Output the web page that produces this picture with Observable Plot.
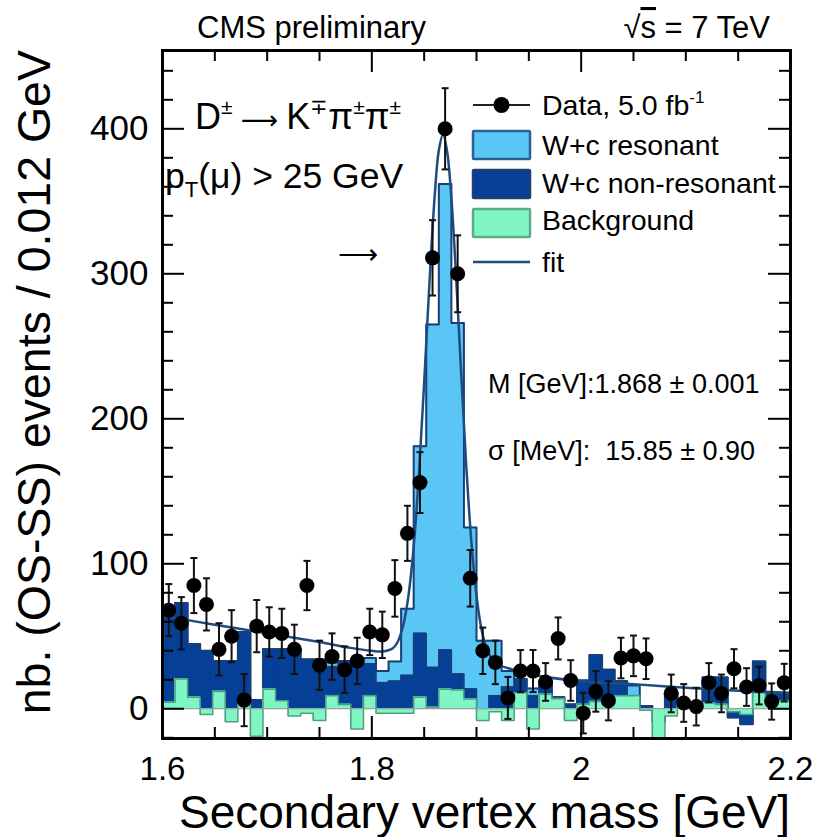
<!DOCTYPE html>
<html>
<head>
<meta charset="utf-8">
<script src="https://cdn.jsdelivr.net/npm/d3@7"></script>
<script src="https://cdn.jsdelivr.net/npm/@observablehq/plot@0.6"></script>
<style>
  html, body { margin: 0; padding: 0; background: #fff; }
  #chart { width: 818px; height: 837px; }
</style>
</head>
<body>
<div id="chart"></div>
<script>
// ---- data ----
const binLowEdge = 1.6;      // GeV
const binWidth = 0.012;      // GeV

// data (OS-SS) per bin, null = no point drawn
const dataCounts = [68, 59, 85, 72, 41, 50, 6, 57, 53, 52,
                    41, 85, 30, 36, 27, 33, 53, 51, 83, 121,
                    156, 311, 400, 300, 90, 40, 32, 7.5, 26, 26,
                    18.5, 48.5, 19.5, -3, 12, 5.5, 35, 36.5, 34.5, null,
                    10.6, 4, 1.5, 18, 10.6, 27.6, 15, 16, 5, 18];
const dataErrors = [18, 18, 19, 18, 18, 18, 18, 18, 17, 17,
                    17, 17, 17, 16, 16, 16, 16, 16, 19.5, 19,
                    21, 26, 28, 26.5, 19.5, 16, 15, 14.5, 14.5, 14.5,
                    13, 14.5, 14, 14, 14, 13.5, 14, 14, 14, null,
                    13, 13, 13, 13.5, 13, 13.5, 13, 13, 12.5, 13];

// stacked template contributions per bin
const backgroundHist = [4.5, 20.5, 8, -4, 12, -9, 5, -19, 13.5, 5.5,
                        -5, -3, -8, 9, 3, -14, 9, -3, -3, -3,
                        8, 1, 13.5, 13, 6.7, -8, -2, -8, 11, -14,
                        10, 7, -8, 3, 5, 5, 9, 9, -1, -20,
                        -5, 3, 4, 4, 3, -2, -4, 11, 5, 5.5];
const nonResonantHist = [60.5, 52.5, 36.6, 44, 21, 42, 48, 25, 27.5, 35.5,
                         46, 37, 42, 20, 30, 47, 22, 21, 22, 26,
                         44, 27.5, 27, 11, 6.9, 8, 11, 23, 9.5, 23,
                         9, 1, 11, 16.5, 32, 22, 10, 0, 3, 11,
                         16, 1, 0, 17.6, 18.6, -4, -6.6, 21.6, 5, 4.5];
const resonantHist = [0, 0, 0, 0, 0, 0, 0, 0, 0, 0,
                      0, 0, 0, 3, 0, 0, 4, 8, 13.6, 46,
                      129, 236.5, 321.5, 242, 111.4, 47, 38, 11, 0, 5,
                      0, 0, 0, 0, 0, 0, 0, 7, 0, 0,
                      0, 0, 0, 0, 0, 0, 0, 0, 0, 0];

// fit curve
const fitMass  = [1.600, 1.650, 1.700, 1.750, 1.780, 1.800, 1.810, 1.820, 1.825, 1.830,
                  1.835, 1.840, 1.845, 1.850, 1.855, 1.860, 1.864, 1.868, 1.872, 1.876,
                  1.880, 1.885, 1.890, 1.895, 1.900, 1.905, 1.910, 1.915, 1.920, 1.930,
                  1.950, 2.000, 2.050, 2.100, 2.150, 2.200];
const fitValue = [64, 58, 52, 46, 42, 40, 39.5, 41.7, 46.6, 57.5,
                  78, 112, 162, 225, 293, 353, 385, 396, 384, 352,
                  305, 236, 170, 116, 78, 54, 41, 34, 30.7, 28,
                  24, 19, 17, 14.5, 12.5, 11];

// axes
const xMajorTicks = [1.6, 1.8, 2.0, 2.2];
const xTickLabels = ["1.6", "1.8", "2", "2.2"];
const xMinorTicks = [1.65, 1.7, 1.75, 1.85, 1.9, 1.95, 2.05, 2.1, 2.15];
const yMajorTicks = [0, 100, 200, 300, 400];
const yMinorTicks = [-20, 20, 40, 60, 80, 120, 140, 160, 180, 220, 240, 260, 280, 320, 340, 360, 380, 420, 440];

// ---- build tables ----
const nBins = dataCounts.length;
const bins = dataCounts.map((n, i) => {
  const x1 = binLowEdge + i * binWidth, x2 = x1 + binWidth;
  const bkg = backgroundHist[i];
  const dark = bkg + nonResonantHist[i];
  const total = dark + resonantHist[i];
  return {x1, x2, xc: (x1 + x2) / 2, bkg, dark, total, n, e: dataErrors[i]};
});
const points = bins.filter(b => b.n != null);
const stepOf = key => [...bins.map(b => ({x: b.x1, y: b[key]})), {x: bins[nBins - 1].x2, y: bins[nBins - 1][key]}];
const fit = fitMass.map((m, i) => ({m, v: fitValue[i]}));

const W = 818, H = 837, mL = 162, mR = 28, mT = 50, mB = 99;
const plotW = W - mL - mR, plotH = H - mT - mB;

const LIGHT = "#5ac6f6", DARK = "#053f96", GREEN = "#80f6c5";
const NAVY = "#1b3f74", GREENLINE = "#4e9e80", FIT = "#1f4c80";

const capSymbol = {draw(ctx, size) { const w = Math.sqrt(size / Math.PI); ctx.moveTo(-w, 0); ctx.lineTo(w, 0); }};

const chart = Plot.plot({
  width: W, height: H,
  marginLeft: mL, marginRight: mR, marginTop: mT, marginBottom: mB,
  style: {fontFamily: "'Liberation Sans', Arial, sans-serif", background: "white", color: "black"},
  x: {domain: [1.6, 2.2], axis: null},
  y: {domain: [-20.5, 454], axis: null},
  marks: [
    Plot.rect(bins, {x1: "x1", x2: "x2", y1: 0, y2: "total", fill: LIGHT, stroke: LIGHT, strokeWidth: 0.6}),
    Plot.line(stepOf("total"), {x: "x", y: "y", curve: "step-after", stroke: NAVY, strokeWidth: 2}),
    Plot.rect(bins, {x1: "x1", x2: "x2", y1: 0, y2: "dark", fill: DARK, stroke: DARK, strokeWidth: 0.6}),
    Plot.line(stepOf("dark"), {x: "x", y: "y", curve: "step-after", stroke: NAVY, strokeWidth: 1.5}),
    Plot.rect(bins, {x1: "x1", x2: "x2", y1: 0, y2: "bkg", fill: GREEN, stroke: GREEN, strokeWidth: 0.6}),
    Plot.line(stepOf("bkg"), {x: "x", y: "y", curve: "step-after", stroke: GREENLINE, strokeWidth: 1.5}),
    Plot.ruleY([0], {stroke: "#999", strokeWidth: 1}),
    Plot.line(fit, {x: "m", y: "v", curve: "catmull-rom", stroke: FIT, strokeWidth: 2.5}),
    Plot.ruleX(points, {x: "xc", y1: d => d.n - d.e, y2: d => d.n + d.e, stroke: "#111", strokeWidth: 2}),
    Plot.dot(points, {x: "xc", y: d => d.n + d.e, symbol: capSymbol, r: 3.5, stroke: "#111", fill: "none", strokeWidth: 2}),
    Plot.dot(points, {x: "xc", y: d => d.n - d.e, symbol: capSymbol, r: 3.5, stroke: "#111", fill: "none", strokeWidth: 2}),
    Plot.dot(points, {x: "xc", y: "n", r: 7.5, fill: "black", stroke: "none"}),
    // inward ticks, all four sides
    Plot.tickY(yMajorTicks, {y: d => d, insetRight: plotW - 22, stroke: "black", strokeWidth: 2}),
    Plot.tickY(yMinorTicks, {y: d => d, insetRight: plotW - 11, stroke: "black", strokeWidth: 2}),
    Plot.tickY(yMajorTicks, {y: d => d, insetLeft: plotW - 22, stroke: "black", strokeWidth: 2}),
    Plot.tickY(yMinorTicks, {y: d => d, insetLeft: plotW - 11, stroke: "black", strokeWidth: 2}),
    Plot.tickX(xMajorTicks, {x: d => d, insetTop: plotH - 22, stroke: "black", strokeWidth: 2}),
    Plot.tickX(xMinorTicks, {x: d => d, insetTop: plotH - 11, stroke: "black", strokeWidth: 2}),
    Plot.tickX(xMajorTicks, {x: d => d, insetBottom: plotH - 22, stroke: "black", strokeWidth: 2}),
    Plot.tickX(xMinorTicks, {x: d => d, insetBottom: plotH - 11, stroke: "black", strokeWidth: 2}),
    Plot.frame({stroke: "black", strokeWidth: 3}),
    Plot.axisX({anchor: "bottom", ticks: xMajorTicks, tickSize: 0, tickPadding: 18, fontSize: 33,
                tickFormat: d => xTickLabels[xMajorTicks.indexOf(d)], label: null}),
    Plot.axisY({anchor: "left", ticks: yMajorTicks, tickSize: 0, tickPadding: 14, fontSize: 35, label: null})
  ]
});

document.getElementById("chart").appendChild(chart);

// ---- annotations, legend, titles ----
const svg = d3.select(chart);
const g = svg.append("g")
  .attr("font-family", "'Liberation Sans', Arial, sans-serif")
  .attr("fill", "black")
  .attr("text-anchor", "start");

// titles above the frame
g.append("text").attr("x", 197).attr("y", 38).attr("font-size", 31).text("CMS preliminary");
const rs = g.append("text").attr("x", 770).attr("y", 38).attr("font-size", 31).attr("text-anchor", "end");
rs.append("tspan").text("√");
rs.append("tspan").attr("text-decoration", "overline").text("s");
rs.append("tspan").text(" = 7 TeV");

// axis titles
g.append("text").attr("x", 790).attr("y", 828).attr("font-size", 46).attr("text-anchor", "end")
  .text("Secondary vertex mass [GeV]");
g.append("text").attr("transform", "translate(50,50) rotate(-90)").attr("font-size", 46.5).attr("text-anchor", "end")
  .text("nb. (OS-SS) events / 0.012 GeV");

// decay label
const dl = g.append("text").attr("x", 195).attr("y", 129).attr("font-size", 36);
dl.append("tspan").text("D");
dl.append("tspan").attr("font-size", 21).attr("dy", -15).text("±");
dl.append("tspan").attr("dy", 15).attr("font-family", "'DejaVu Sans', sans-serif").attr("font-size", 26).text(" ⟶ ");
dl.append("tspan").text("K");
dl.append("tspan").attr("font-size", 21).attr("dy", -15).text("∓");
dl.append("tspan").attr("dy", 15).text("π");
dl.append("tspan").attr("font-size", 21).attr("dy", -15).text("±");
dl.append("tspan").attr("dy", 15).text("π");
dl.append("tspan").attr("font-size", 21).attr("dy", -15).text("±");

const pt = g.append("text").attr("x", 165).attr("y", 188).attr("font-size", 35.5);
pt.append("tspan").text("p");
pt.append("tspan").attr("font-size", 22).attr("dy", 9).text("T");
pt.append("tspan").attr("dy", -9).text("(μ) > 25 GeV");

// arrow
g.append("text").attr("x", 338).attr("y", 264).attr("font-size", 28)
  .attr("font-family", "'DejaVu Sans', sans-serif").attr("font-weight", 200).text("⟶");

// fit results
g.append("text").attr("x", 488).attr("y", 393).attr("font-size", 27).text("M [GeV]:1.868 ± 0.001");
g.append("text").attr("x", 488).attr("y", 460).attr("font-size", 27)
  .style("white-space", "pre").text("σ [MeV]:  15.85 ± 0.90");

// legend
const lx = 473, lw = 57, tx = 542;
g.append("line").attr("x1", lx).attr("x2", lx + lw).attr("y1", 105).attr("y2", 105).attr("stroke", "#222").attr("stroke-width", 2);
g.append("circle").attr("cx", lx + lw / 2).attr("cy", 105).attr("r", 8).attr("fill", "black");
const dt = g.append("text").attr("x", tx).attr("y", 115).attr("font-size", 28.5);
dt.append("tspan").text("Data, 5.0 fb");
dt.append("tspan").attr("font-size", 17).attr("dy", -12).text("-1");

const boxes = [
  {y: 131, fill: LIGHT, stroke: "#2a5f92", label: "W+c resonant", ty: 155},
  {y: 170, fill: DARK, stroke: "#1e3f72", label: "W+c non-resonant", ty: 193},
  {y: 209, fill: GREEN, stroke: "#5caa8a", label: "Background", ty: 230}
];
for (const b of boxes) {
  g.append("rect").attr("x", lx).attr("y", b.y).attr("width", lw).attr("height", 28)
    .attr("fill", b.fill).attr("stroke", b.stroke).attr("stroke-width", 2.5).attr("rx", 1);
  g.append("text").attr("x", tx).attr("y", b.ty).attr("font-size", 28.5).text(b.label);
}
g.append("line").attr("x1", lx).attr("x2", lx + lw).attr("y1", 262).attr("y2", 262).attr("stroke", FIT).attr("stroke-width", 2.5);
g.append("text").attr("x", tx).attr("y", 272).attr("font-size", 28.5).text("fit");
</script>
</body>
</html>
